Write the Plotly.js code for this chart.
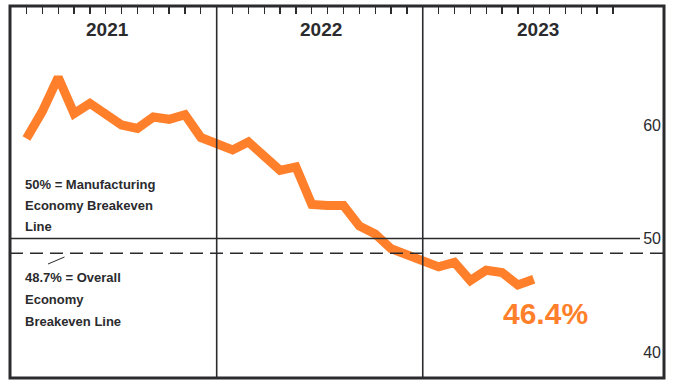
<!DOCTYPE html>
<html>
<head>
<meta charset="utf-8">
<script src="https://cdn.plot.ly/plotly-3.0.1.min.js"></script>
<style>html,body{margin:0;padding:0;background:#fff;}#chart{width:675px;height:389px;}</style>
</head>
<body>
<div id="chart"></div>
<script>
// ---- data ----
const years = ["2021", "2022", "2023"];
const pmi2021 = [58.8, 61.2, 64.2, 61.0, 61.9, 61.0, 60.0, 59.7, 60.7, 60.5, 60.9, 58.9];
const pmi2022 = [57.8, 58.5, 57.2, 56.0, 56.3, 53.0, 52.9, 52.9, 51.1, 50.4, 49.1, 48.6];
const pmi2023 = [47.5, 47.9, 46.3, 47.2, 47.0, 45.9, 46.4];
const yTicks = [40, 50, 60];
const mfgBreakeven = 50;
const overallBreakeven = 48.7;
const noteMfgLines = ["50% = Manufacturing", "Economy Breakeven", "Line"];
const noteOverallLines = ["48.7% = Overall", "Economy", "Breakeven Line"];

// ---- build series: each year occupies 13 slots, months at slots 1..12 ----
const SLOTS = 13;
const series = [pmi2021, pmi2022, pmi2023];
const xs = [], ys = [], monthTicks = [];
series.forEach((arr, yi) => {
  for (let m = 0; m < 12; m++) monthTicks.push(yi * SLOTS + m + 1);
  arr.forEach((v, m) => { xs.push(yi * SLOTS + m + 1); ys.push(v); });
});
const lastX = xs[xs.length - 1], lastY = ys[ys.length - 1];

const W = 675, H = 389;
const M = {l: 10, r: 11, t: 6, b: 11};
const pw = W - M.l - M.r, ph = H - M.t - M.b;
const px = x => (x - M.l) / pw;
const py = y => 1 - (y - M.t) / ph;

const FONT = "'Liberation Sans', Arial, sans-serif";
const DARK = "#2b2b2e";
const ORANGE = "#ff7f2a";

const yearCenters = [6.1, 19.6, 33.3];

const annotations = years.map((yr, i) => ({
  text: "<b>" + yr + "</b>", x: yearCenters[i], xref: "x", y: py(30), yref: "paper",
  showarrow: false, xanchor: "center", yanchor: "middle",
  font: {family: FONT, size: 19, color: DARK}
}));
const addLines = (lines, yCenters) => lines.forEach((t, i) => annotations.push({
  text: "<b>" + t + "</b>", x: px(23), xref: "paper", y: py(yCenters[i]), yref: "paper",
  showarrow: false, xanchor: "left", yanchor: "middle", align: "left",
  font: {family: FONT, size: 13, color: DARK}
}));
addLines(noteMfgLines, [184, 205, 226]);
addLines(noteOverallLines, [277, 299, 321]);
annotations.push({
  text: "<b>" + lastY.toFixed(1) + "%</b>", x: lastX, xref: "x", y: lastY, yref: "y",
  showarrow: false, xanchor: "center", yanchor: "middle", xshift: 12, yshift: -34,
  font: {family: FONT, size: 30, color: ORANGE}
});

const shapes = [
  {type: "line", xref: "x", yref: "paper", x0: SLOTS, x1: SLOTS, y0: 0, y1: 1, line: {color: DARK, width: 1.6}},
  {type: "line", xref: "x", yref: "paper", x0: 2 * SLOTS, x1: 2 * SLOTS, y0: 0, y1: 1, line: {color: DARK, width: 1.6}},
  {type: "line", xref: "paper", yref: "y", x0: 0, x1: px(640), y0: mfgBreakeven, y1: mfgBreakeven, line: {color: DARK, width: 1.6}},
  {type: "line", xref: "paper", yref: "y", x0: 0, x1: 1, y0: overallBreakeven, y1: overallBreakeven, line: {color: DARK, width: 1.3, dash: "13px,7px"}},
  {type: "line", xref: "paper", yref: "paper", x0: px(48), x1: px(64.5), y0: py(264), y1: py(257), line: {color: DARK, width: 1}},
  {type: "rect", xref: "paper", yref: "paper", x0: 0, x1: 1, y0: 0, y1: 1, line: {color: DARK, width: 3}}
];

const trace = {
  x: xs, y: ys, type: "scatter", mode: "lines",
  line: {color: ORANGE, width: 9}, hoverinfo: "skip"
};

const layout = {
  width: W, height: H, margin: M,
  paper_bgcolor: "#fff", plot_bgcolor: "#fff",
  showlegend: false,
  xaxis: {
    range: [-0.04, 41.22], side: "top", showgrid: false, zeroline: false,
    tickmode: "array", tickvals: monthTicks, ticks: "inside", ticklen: 8, tickwidth: 1.3,
    tickcolor: DARK, showticklabels: false, showline: false, fixedrange: true
  },
  yaxis: {
    range: [37.71, 70.48], side: "right", showgrid: false, zeroline: false,
    tickmode: "array", tickvals: yTicks, ticktext: yTicks.map(String),
    ticks: "", ticklabelposition: "inside", showline: false,
    tickfont: {family: FONT, size: 16, color: DARK}, fixedrange: true
  },
  annotations: annotations,
  shapes: shapes
};

Plotly.newPlot("chart", [trace], layout, {displayModeBar: false, staticPlot: true});
</script>
</body>
</html>
